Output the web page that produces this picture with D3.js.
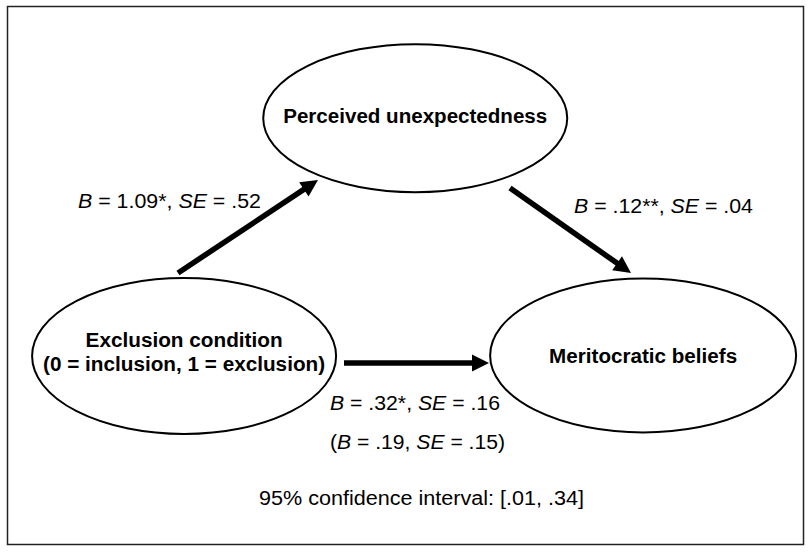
<!DOCTYPE html>
<html>
<head>
<meta charset="utf-8">
<script src="https://cdn.jsdelivr.net/npm/d3@7"></script>
<style>
  html, body { margin: 0; padding: 0; background: #fff; }
  svg { display: block; }
  text { font-family: "Liberation Sans", Arial, sans-serif; fill: #000; }
</style>
</head>
<body>
<svg id="chart" width="811" height="552"></svg>
<script>
// ---- data ----
const nodeIds = ["mediator", "predictor", "outcome"];
const nodeLabels = ["Perceived unexpectedness", "Exclusion condition", "Meritocratic beliefs"];
const nodeSublabels = ["", "(0 = inclusion, 1 = exclusion)", ""];

const pathIds = ["a", "b", "c", "c'"];
const pathFrom = ["predictor", "mediator", "predictor", "predictor"];
const pathTo = ["mediator", "outcome", "outcome", "outcome"];
const pathB = ["1.09", ".12", ".32", ".19"];
const pathStars = ["*", "**", "*", ""];
const pathSE = [".52", ".04", ".16", ".15"];
const pathParen = [false, false, false, true];

const ciLevel = "95%";
const ciBounds = [".01", ".34"];

// ---- layout (positions in a 0-100 grid mapped by scales) ----
const W = 811, H = 552;
const x = d3.scaleLinear().domain([0, 100]).range([0, W]);
const y = d3.scaleLinear().domain([0, 100]).range([0, H]);

const layout = {
  mediator:  { cx: 51.2, cy: 21.4, rx: 152, ry: 74 },
  predictor: { cx: 22.7, cy: 64.5, rx: 152, ry: 78 },
  outcome:   { cx: 79.3, cy: 64.4, rx: 153, ry: 77 }
};
const nodeText = {
  mediator:  [{ y: 116, w: 264 }],
  predictor: [{ y: 340, w: 197 }, { y: 364, w: 282 }],
  outcome:   [{ y: 356, w: 188 }]
};
const arrowGeom = {
  a: { x1: 178, y1: 273, x2: 318, y2: 180 },
  b: { x1: 510, y1: 188, x2: 631, y2: 273 },
  c: { x1: 344, y1: 363, x2: 489, y2: 363 }
};
const labelGeom = {
  a: { x: 78, y: 201, w: 183 },
  b: { x: 574, y: 206, w: 179 },
  c: { x: 330, y: 403, w: 170 },
  "c'": { x: 330, y: 442, w: 175 }
};
const FS = 20;

const svg = d3.select("#chart");

// frame
svg.append("rect")
  .attr("x", 7.5).attr("y", 6.5)
  .attr("width", 796).attr("height", 538)
  .attr("fill", "none").attr("stroke", "#222").attr("stroke-width", 1.5);

// nodes
nodeIds.forEach((id, i) => {
  const L = layout[id];
  svg.append("ellipse")
    .attr("cx", x(L.cx)).attr("cy", y(L.cy))
    .attr("rx", L.rx).attr("ry", L.ry)
    .attr("fill", "#fff").attr("stroke", "#000").attr("stroke-width", 2);
  const lines = [nodeLabels[i]];
  if (nodeSublabels[i]) lines.push(nodeSublabels[i]);
  lines.forEach((t, j) => {
    const g = nodeText[id][j];
    svg.append("text")
      .attr("x", x(L.cx))
      .attr("y", g.y + FS * 0.36)
      .attr("text-anchor", "middle")
      .attr("font-weight", "bold")
      .attr("font-size", FS)
      .attr("textLength", g.w)
      .attr("lengthAdjust", "spacingAndGlyphs")
      .text(t);
  });
});

// arrows (c' shares the direct path arrow)
pathIds.forEach((p) => {
  const a = arrowGeom[p];
  if (!a) return;
  const dx = a.x2 - a.x1, dy = a.y2 - a.y1;
  const len = Math.hypot(dx, dy);
  const ux = dx / len, uy = dy / len;
  const sx = a.x2 - ux * 12, sy = a.y2 - uy * 12;
  svg.append("line")
    .attr("x1", a.x1).attr("y1", a.y1)
    .attr("x2", sx).attr("y2", sy)
    .attr("stroke", "#000").attr("stroke-width", 5.5);
  const hl = 17, hw = 8.5;
  const bx = a.x2 - ux * hl, by = a.y2 - uy * hl;
  svg.append("path")
    .attr("d", `M${a.x2},${a.y2} L${bx - uy * hw},${by + ux * hw} L${bx + uy * hw},${by - ux * hw} Z`)
    .attr("fill", "#000");
});

// coefficient labels
pathIds.forEach((p, i) => {
  const g = labelGeom[p];
  const t = svg.append("text")
    .attr("x", g.x).attr("y", g.y + FS * 0.36)
    .attr("font-size", FS)
    .attr("textLength", g.w)
    .attr("lengthAdjust", "spacingAndGlyphs");
  if (pathParen[i]) t.append("tspan").text("(");
  t.append("tspan").attr("font-style", "italic").text("B");
  t.append("tspan").text(` = ${pathB[i]}${pathStars[i]}, `);
  t.append("tspan").attr("font-style", "italic").text("SE");
  t.append("tspan").text(` = ${pathSE[i]}` + (pathParen[i] ? ")" : ""));
});

// CI note
svg.append("text")
  .attr("x", 421.5).attr("y", 498 + FS * 0.36)
  .attr("text-anchor", "middle")
  .attr("font-size", FS)
  .attr("textLength", 325)
  .attr("lengthAdjust", "spacingAndGlyphs")
  .text(`${ciLevel} confidence interval: [${ciBounds[0]}, ${ciBounds[1]}]`);
</script>
</body>
</html>
